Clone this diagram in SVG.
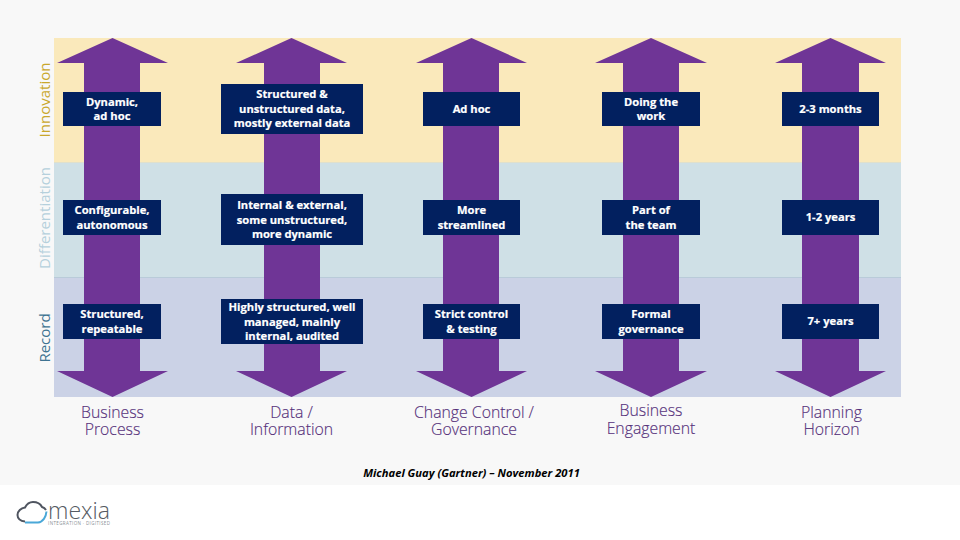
<svg xmlns="http://www.w3.org/2000/svg" width="960" height="540" viewBox="0 0 960 540">
<style>
.arrow{fill:#6f3596}
.box{fill:#02205f}
.bt{font-family:"Open Sans","Noto Sans","Liberation Sans",sans-serif;font-size:11.2px;font-weight:700;fill:#fff;stroke:#fff;stroke-width:.2px;text-anchor:middle}
.lab{font-family:"Open Sans","Noto Sans","Liberation Sans",sans-serif;font-size:15.800px;font-weight:300;fill:#55307a;stroke:#55307a;stroke-width:.15px;text-anchor:middle}
.side{font-family:"Open Sans","Noto Sans","Liberation Sans",sans-serif;font-size:15px;text-anchor:middle}
</style>
<rect width="960" height="540" fill="#fff"/>
<rect width="960" height="485" fill="#f8f8f8"/>
<g id="bands">
<rect x="54" y="38" width="847" height="124.500" fill="#fae9bb"/>
<rect x="54" y="162.500" width="847" height="115" fill="#cfe0e6"/>
<rect x="54" y="277.500" width="847" height="119.500" fill="#cbd2e6"/>
<rect x="54" y="162" width="847" height="1" fill="#e0e0cc"/>
<rect x="54" y="277" width="847" height="1" fill="#b9cbd9"/>
</g>
<g id="side-labels">
<text class="side" transform="translate(50 100) rotate(-90)" fill="#c9a72c">Innovation</text>
<text class="side" transform="translate(50 218) rotate(-90)" fill="#b5d0dc">Differentiation</text>
<text class="side" transform="translate(50 338) rotate(-90)" fill="#3e7391">Record</text>
</g>
<g id="connectors">
<path class="arrow" d="M112.500 38L168 63H140V371H168L112.500 397L57 371H84V63H57Z"/>
<path class="arrow" d="M291.500 38L347 63H320V371H347L291.500 397L236 371H264V63H236Z"/>
<path class="arrow" d="M471.500 38L527 63H499V371H527L471.500 397L416 371H443V63H416Z"/>
<path class="arrow" d="M651 38L707 63H679V371H707L651 397L595 371H623V63H595Z"/>
<path class="arrow" d="M830.500 38L886 63H859V371H886L830.500 397L775 371H802V63H775Z"/>
</g>
<g id="n11"><rect class="box" x="63" y="92" width="98" height="34"/><text class="bt"><tspan x="112" y="106">Dynamic,</tspan><tspan x="112" y="120">ad hoc</tspan></text></g>
<g id="n12"><rect class="box" x="221" y="84" width="142" height="50"/><text class="bt"><tspan x="292" y="98">Structured &amp;</tspan><tspan x="292" y="113">unstructured data,</tspan><tspan x="292" y="127">mostly external data</tspan></text></g>
<g id="n13"><rect class="box" x="423" y="92" width="97" height="34"/><text class="bt" x="471.500" y="113">Ad hoc</text></g>
<g id="n14"><rect class="box" x="602" y="92" width="98" height="34"/><text class="bt"><tspan x="651" y="106">Doing the</tspan><tspan x="651" y="120">work</tspan></text></g>
<g id="n15"><rect class="box" x="782" y="92" width="97" height="34"/><text class="bt" x="830.500" y="113">2-3 months</text></g>
<g id="n21"><rect class="box" x="63" y="200" width="98" height="35"/><text class="bt"><tspan x="112" y="214">Configurable,</tspan><tspan x="112" y="229">autonomous</tspan></text></g>
<g id="n22"><rect class="box" x="221" y="194" width="142" height="51"/><text class="bt"><tspan x="292" y="209">Internal &amp; external,</tspan><tspan x="292" y="224">some unstructured,</tspan><tspan x="292" y="238">more dynamic</tspan></text></g>
<g id="n23"><rect class="box" x="423" y="200" width="97" height="35"/><text class="bt"><tspan x="471.500" y="214">More</tspan><tspan x="471.500" y="229">streamlined</tspan></text></g>
<g id="n24"><rect class="box" x="602" y="200" width="98" height="35"/><text class="bt"><tspan x="651" y="214">Part of</tspan><tspan x="651" y="229">the team</tspan></text></g>
<g id="n25"><rect class="box" x="782" y="200" width="97" height="35"/><text class="bt" x="830.500" y="221">1-2 years</text></g>
<g id="n31"><rect class="box" x="63" y="304" width="98" height="35"/><text class="bt"><tspan x="112" y="318">Structured,</tspan><tspan x="112" y="333">repeatable</tspan></text></g>
<g id="n32"><rect class="box" x="221" y="299" width="142" height="45"/><text class="bt"><tspan x="292" y="311">Highly structured, well</tspan><tspan x="292" y="326">managed, mainly</tspan><tspan x="292" y="340">internal, audited</tspan></text></g>
<g id="n33"><rect class="box" x="423" y="304" width="97" height="35"/><text class="bt"><tspan x="471.500" y="318">Strict control</tspan><tspan x="471.500" y="333">&amp; testing</tspan></text></g>
<g id="n34"><rect class="box" x="602" y="304" width="98" height="35"/><text class="bt"><tspan x="651" y="318">Formal</tspan><tspan x="651" y="333">governance</tspan></text></g>
<g id="n35"><rect class="box" x="782" y="304" width="97" height="35"/><text class="bt" x="830.500" y="325">7+ years</text></g>
<g id="columns">
<text class="lab"><tspan x="112.500" y="418">Business</tspan><tspan x="112.500" y="435">Process</tspan></text>
<text class="lab"><tspan x="291.500" y="418">Data /</tspan><tspan x="291.500" y="435">Information</tspan></text>
<text class="lab"><tspan x="474" y="418">Change Control /</tspan><tspan x="474" y="435">Governance</tspan></text>
<text class="lab"><tspan x="651" y="416">Business</tspan><tspan x="651" y="434">Engagement</tspan></text>
<text class="lab"><tspan x="831.500" y="418">Planning</tspan><tspan x="831.500" y="435">Horizon</tspan></text>
</g>
<text x="471.500" y="477" font-family="'Open Sans','Liberation Sans',sans-serif" font-size="11.200" font-weight="700" font-style="italic" fill="#000" text-anchor="middle">Michael Guay (Gartner) – November 2011</text>
<g id="logo">
<path d="M25 521.500C20 521 17.500 518 17.500 515C17.500 511 21 508 25 507.500C27 503.500 30 502 33 502C37 502 40.500 504 42 507C43.500 507.500 45 508.500 46 510" fill="none" stroke="#4f5560" stroke-width="2"/>
<path d="M25 522.500H38C43 522 46 517 46.500 511.500" fill="none" stroke="#4aa8d8" stroke-width="2"/>
<text x="48" y="519" font-family="'Open Sans','Liberation Sans',sans-serif" font-size="23" font-weight="300" fill="#565b63" textLength="62" lengthAdjust="spacingAndGlyphs">mexia</text>
<text x="48" y="525" font-family="'Open Sans','Liberation Sans',sans-serif" font-size="4.500" fill="#8a8f96" textLength="62">INTEGRATION · DIGITISED</text>
</g>
</svg>
